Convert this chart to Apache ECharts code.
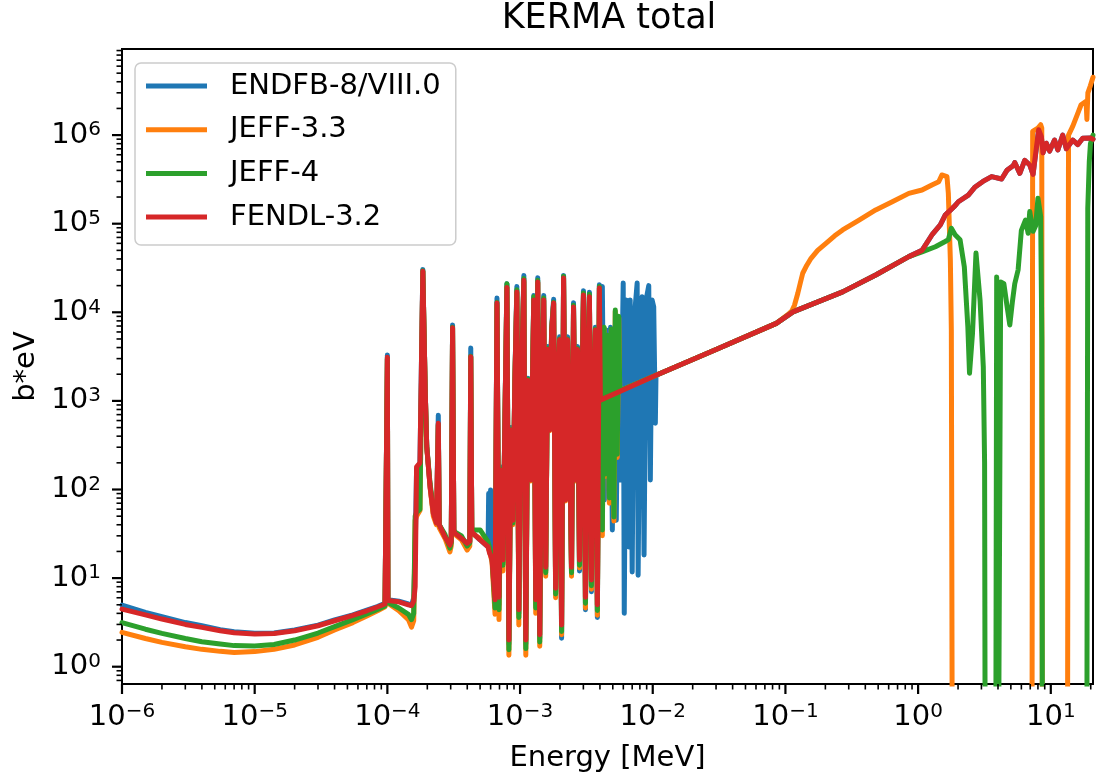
<!DOCTYPE html>
<html>
<head>
<meta charset="utf-8">
<title>KERMA total</title>
<script src="https://cdn.jsdelivr.net/npm/echarts@6.0.0/dist/echarts.min.js"></script>
<style>
  html, body { margin: 0; padding: 0; background: #fff; }
  #chart { width: 1096px; height: 780px; }
</style>
</head>
<body>
<div id="chart"></div>
<script>
// energy in MeV, kerma in b*eV
const names = ['ENDFB-8/VIII.0', 'JEFF-3.3', 'JEFF-4', 'FENDL-3.2']
const colors = ['#1f77b4', '#ff7f0e', '#2ca02c', '#d62728']
const FONT = 'DejaVu Sans'
const OFF = 0.001 // below the plot: curve drops out of the log axis

// thermal / 1/v part
const lowEnergy = [1e-6, 1.5e-6, 2e-6, 3e-6, 4e-6, 5.5e-6, 7e-6, 1e-5, 1.4e-5, 2e-5,
  3e-5, 4e-5, 5.5e-5, 7e-5, 8.5e-5, 9.6e-5]
const lowEndfb = [4.97, 4.1, 3.66, 3.15, 2.9, 2.62, 2.48, 2.38, 2.4, 2.6,
  2.95, 3.37, 3.85, 4.36, 4.8, 5.2]
const lowJeff33 = [2.44, 2.08, 1.88, 1.68, 1.57, 1.49, 1.45, 1.48, 1.57, 1.76,
  2.15, 2.6, 3.15, 3.73, 4.3, 4.75]
const lowJeff4 = [3.14, 2.65, 2.38, 2.08, 1.91, 1.8, 1.73, 1.71, 1.78, 2.0,
  2.4, 2.83, 3.4, 3.93, 4.45, 4.84]
const lowFendl = [4.47, 3.85, 3.45, 3.0, 2.78, 2.55, 2.42, 2.34, 2.37, 2.55,
  2.9, 3.3, 3.8, 4.28, 4.75, 5.1]

// first isolated resonances
const resEnergy = [9.9e-5, 1.0e-4, 1.01e-4, 1.22e-4, 1.44e-4, 1.52e-4, 1.58e-4, 1.62e-4, 1.66e-4, 1.76e-4,
  1.85e-4, 1.93e-4, 1.98e-4, 2.10e-4, 2.22e-4, 2.34e-4, 2.38e-4, 2.42e-4, 2.46e-4, 2.72e-4,
  2.96e-4, 3.03e-4, 3.10e-4, 3.17e-4, 3.24e-4, 3.62e-4, 3.99e-4, 4.18e-4, 4.25e-4, 4.33e-4,
  4.40e-4, 5.0e-4, 5.74e-4, 5.8e-4, 5.9e-4, 6.0e-4]
const resEndfb = [5.4, 3300, 5.7, 5.5, 5.1, 4.9, 6.0, 20, 170, 200,
  30500, 1260, 305, 107, 54, 42, 43, 690, 40, 29,
  23, 26, 7200, 34, 32, 28, 24.7, 26, 3950, 33,
  32, 27, 22.6, 90, 45, 99]
const resJeff33 = [4.9, 2950, 5.2, 4.3, 3.4, 2.8, 3.3, 45, 50, 58,
  29000, 1230, 300, 105, 50, 40, 41, 530, 37, 28,
  19.8, 23, 6600, 33, 31, 27, 20.7, 23, 3100, 32,
  31, 28, 23, 22, 20, 18]
const resJeff4 = [5.0, 3000, 5.3, 4.6, 3.9, 3.4, 4.0, 50, 55, 60,
  29500, 1240, 310, 115, 62, 70, 50, 540, 40, 31,
  21.8, 25, 6800, 35, 33, 30, 23, 25, 3200, 35,
  34, 35, 25.7, 24, 22, 20]
const resFendl = [5.3, 3100, 5.6, 5.4, 5.0, 4.9, 5.5, 8, 180, 200,
  29000, 1240, 305, 107, 54, 42, 43, 560, 40, 29,
  23.6, 26, 6700, 34, 32, 28, 24.7, 26, 3150, 33,
  32, 27, 22.6, 21, 19, 18]

// resolved resonance forest
const forestEnergy = [6.15e-4, 6.48e-4, 6.70e-4, 6.94e-4, 7.18e-4, 7.43e-4, 7.69e-4, 7.96e-4, 8.24e-4, 8.53e-4,
  8.83e-4, 9.14e-4, 9.46e-4, 9.79e-4, 1.014e-3, 1.068e-3, 1.105e-3, 1.144e-3, 1.205e-3, 1.269e-3,
  1.313e-3, 1.359e-3, 1.407e-3, 1.457e-3, 1.508e-3, 1.561e-3, 1.615e-3, 1.672e-3, 1.731e-3, 1.791e-3,
  1.854e-3, 1.919e-3, 1.987e-3, 2.056e-3, 2.128e-3, 2.203e-3, 2.280e-3, 2.360e-3, 2.443e-3, 2.529e-3,
  2.618e-3, 2.710e-3, 2.805e-3, 2.903e-3, 3.005e-3, 3.111e-3, 3.220e-3, 3.333e-3, 3.450e-3, 3.571e-3,
  3.697e-3, 3.826e-3, 3.961e-3]
const forestEndfb = [70, 5.0, 14500, 5.0, 180, 15, 650, 21000, 1.8, 500,
  44, 1800, 19500, 4.0, 1100, 26000, 1.8, 1800, 135, 15500,
  5.0, 24500, 2.1, 1100, 15500, 12.0, 4100, 500, 6800, 14000,
  7.0, 1800, 5300, 2.1, 26000, 80, 5300, 500, 11.0, 12800,
  135, 4100, 12, 650, 17500, 4.4, 1800, 16800, 7.0, 1100,
  6800, 3.6, 20500]
const forestJeff33 = [15, 3.9, 12000, 3.4, 160, 12, 600, 19000, 1.35, 460,
  40, 1650, 16500, 2.95, 1000, 22000, 1.35, 1650, 125, 13500,
  4.0, 21500, 1.7, 1000, 13500, 10.5, 3700, 460, 6200, 12500,
  6.0, 1650, 4800, 2.3, 24000, 74, 4800, 460, 10.5, 11300,
  125, 3700, 13, 600, 15500, 4.6, 1650, 14800, 7.5, 1000,
  6200, 3.8, 18500]
const forestJeff4 = [17, 4.6, 13000, 4.4, 170, 14, 620, 21000, 1.55, 480,
  42, 1750, 18000, 3.6, 1050, 24000, 1.6, 1750, 130, 15000,
  4.6, 23000, 1.9, 1050, 14500, 11.5, 3900, 480, 6500, 13000,
  6.6, 1750, 5000, 2.5, 25500, 78, 5000, 480, 11.5, 12000,
  130, 3900, 14, 620, 16500, 5.2, 1750, 16000, 8.2, 1050,
  6500, 4.3, 19500]
const forestFendl = [16, 5.7, 12700, 6.1, 165, 16, 610, 19000, 2.0, 470,
  45, 1700, 17000, 4.4, 1020, 23000, 2.0, 1700, 128, 13800,
  5.7, 22000, 2.3, 1020, 13800, 13.3, 3800, 470, 6300, 12700,
  7.7, 1700, 4900, 2.95, 24400, 76, 4900, 470, 13.3, 11500,
  128, 3800, 16, 610, 15700, 6.1, 1700, 15000, 9.5, 1020,
  6300, 5.0, 18800]

// JEFF evaluations resolve a little further
const jeffExtEnergy = [4.03e-3, 4.10e-3, 4.17e-3, 4.30e-3, 4.39e-3, 4.55e-3, 4.71e-3, 4.87e-3, 5.10e-3, 5.22e-3,
  5.40e-3, 5.54e-3, 5.64e-3]
const jeff33Ext = [290, 4800, 30, 6500, 140, 5300, 70, 6300, 44, 10200, 230, 8700, 1300]
const jeff4Ext = [300, 5000, 35, 6800, 150, 5500, 80, 6500, 49, 10600, 250, 9000, 1300]

// ENDF/B-VIII.0 resolves up to ~10 keV
const endfbExtEnergy = [4.10e-3, 4.17e-3, 4.32e-3, 4.47e-3, 4.63e-3, 4.81e-3, 4.96e-3, 5.13e-3, 5.31e-3, 5.50e-3,
  5.69e-3, 5.99e-3, 6.10e-3, 6.31e-3, 6.61e-3, 6.76e-3, 7.00e-3, 7.24e-3, 7.63e-3, 7.76e-3,
  8.04e-3, 8.32e-3, 8.60e-3, 8.91e-3, 9.33e-3, 9.59e-3, 9.88e-3, 1.017e-2, 1.046e-2, 1.058e-2]
const endfbExt = [280, 19500, 76, 6300, 280, 6800, 35, 3800, 45, 6300,
  128, 21400, 4.0, 13800, 22.4, 13800, 11.7, 8200, 21400, 10.8,
  6300, 15000, 18.2, 13800, 20000, 128, 13800, 11500, 560, 1950]

// smooth part shared by all libraries
const lineEnergy = [4.03e-3, 1.058e-2, 3e-2, 8.53e-2, 0.114, 0.27, 0.479, 0.851, 1.07]
const lineKerma = [1020, 1950, 3800, 7500, 1.01e4, 1.7e4, 2.64e4, 4.25e4, 5.0e4]
const jeff4LineKerma = [1950, 3800, 7500, 1.01e4, 1.7e4, 2.64e4, 4.25e4, 4.8e4]

// fast region
const jeff33HighEnergy = [0.105, 0.112, 0.117, 0.124, 0.13, 0.135, 0.145, 0.156, 0.175, 0.202,
  0.235, 0.270, 0.359, 0.479, 0.639, 0.851, 1.07, 1.27, 1.43, 1.51,
  1.65, 1.69, 1.75, 1.78, 1.82, 7.20, 7.30, 7.47, 8.0, 8.39,
  8.55, 8.65, 13.3, 13.6, 14.65, 15.97, 16.92, 18.45, 18.71, 19.03,
  19.87, 20.8]
const jeff33High = [9.5e3, 1.04e4, 1.2e4, 1.64e4, 2.2e4, 2.76e4, 3.4e4, 4.07e4, 5.0e4, 6.0e4,
  7.3e4, 8.5e4, 1.1e5, 1.43e5, 1.77e5, 2.2e5, 2.4e5, 2.74e5, 2.98e5, 3.55e5,
  3.4e5, 2.2e5, 3.9e4, 6300, OFF, OFF, 1.1e6, 1.13e6, 1.2e6, 1.31e6,
  1.2e6, OFF, OFF, 1.0e6, 1.26e6, 1.76e6, 2.2e6, 2.4e6, 1.5e6, 3.0e6,
  3.6e6, 4.5e6]

const jeff4HighEnergy = [1.35, 1.60, 1.69, 1.78, 1.90, 2.07, 2.23, 2.37, 2.44, 2.57,
  2.73, 2.93, 3.10, 3.17, 3.22, 3.83, 3.91, 3.99, 4.10, 4.19,
  4.43, 4.67, 4.91, 5.13, 5.35, 5.67, 6.0, 6.45, 6.75, 6.94,
  7.35, 7.69, 8.0, 8.39, 8.56, 8.68, 18.6, 19.0, 19.5, 19.9,
  20.8]
const jeff4High = [5.5e4, 6.3e4, 6.6e4, 8.9e4, 7.5e4, 6.6e4, 3.26e4, 6900, 2050, 5800,
  4.67e4, 1.37e4, 2400, 200, OFF, OFF, 2.5e4, OFF, OFF, 2.2e4,
  2.1e4, 1.2e4, 7200, 1.3e4, 2.1e4, 3.0e4, 8.4e4, 1.1e5, 7.8e4, 1.37e5,
  8.2e4, 9.5e4, 1.94e5, 1.2e5, 5000, OFF, OFF, 1.5e5, 5e5, 8e5,
  1e6]

const fendlHighEnergy = [1.27, 1.47, 1.60, 1.90, 2.01, 2.39, 2.69, 3.08, 3.58, 4.26,
  4.67, 5.20, 5.35, 5.84, 6.36, 6.94, 7.35, 8.10, 8.49, 8.73,
  9.25, 9.80, 10.67, 11.3, 12.3, 13.1, 14.65, 15.97, 17.4, 19.9,
  20.8]
const fendlHigh = [7.46e4, 9.7e4, 1.25e5, 1.6e5, 1.77e5, 2.1e5, 2.6e5, 3.0e5, 3.4e5, 3.2e5,
  4.0e5, 4.5e5, 4.9e5, 3.7e5, 5.2e5, 4.6e5, 3.6e5, 1.15e6, 9.6e5, 6.3e5,
  8.1e5, 6.6e5, 8.8e5, 6.8e5, 1.0e6, 7.0e5, 8.8e5, 7.8e5, 9.2e5, 9.3e5,
  9.0e5]

const xMajorTicks = [1e-6, 1e-5, 1e-4, 1e-3, 1e-2, 1e-1, 1, 10]
const yMajorTicks = [1, 10, 100, 1e3, 1e4, 1e5, 1e6]
const X_MIN = 1e-6, X_MAX = 20.8
const Y_MIN = 0.638, Y_MAX = 9.37e6

const pairs = (xs, ys) => xs.map((x, i) => [x, ys[i]])

const endfbData = [].concat(
  pairs(lowEnergy, lowEndfb), pairs(resEnergy, resEndfb), pairs(forestEnergy, forestEndfb),
  pairs(endfbExtEnergy, endfbExt), pairs(lineEnergy.slice(1), lineKerma.slice(1)),
  pairs(fendlHighEnergy, fendlHigh))
const jeff33Data = [].concat(
  pairs(lowEnergy, lowJeff33), pairs(resEnergy, resJeff33), pairs(forestEnergy, forestJeff33),
  pairs(jeffExtEnergy, jeff33Ext), pairs(lineEnergy.slice(1, 4), lineKerma.slice(1, 4)),
  pairs(jeff33HighEnergy, jeff33High))
const jeff4Data = [].concat(
  pairs(lowEnergy, lowJeff4), pairs(resEnergy, resJeff4), pairs(forestEnergy, forestJeff4),
  pairs(jeffExtEnergy, jeff4Ext), pairs(lineEnergy.slice(1), jeff4LineKerma),
  pairs(jeff4HighEnergy, jeff4High))
const fendlData = [].concat(
  pairs(lowEnergy, lowFendl), pairs(resEnergy, resFendl), pairs(forestEnergy, forestFendl),
  pairs(lineEnergy, lineKerma), pairs(fendlHighEnergy, fendlHigh))

// minor ticks like a log locator: 2..9 times each decade
function minorTicks(lo, hi) {
  const out = []
  for (let d = Math.floor(Math.log10(lo)); d <= Math.ceil(Math.log10(hi)); d++) {
    for (let m = 2; m <= 9; m++) {
      const v = m * Math.pow(10, d)
      if (v >= lo && v <= hi) out.push(v)
    }
  }
  return out
}

function powerLabel(value) {
  const e = Math.log10(value)
  const r = Math.round(e)
  if (Math.abs(e - r) > 1e-6) return ''
  return '{b|10}{s|' + (r < 0 ? '\u2212' + (-r) : r) + '}'
}

const labelRich = {
  b: { fontFamily: FONT, fontSize: 29, lineHeight: 30, color: '#000' },
  s: { fontFamily: FONT, fontSize: 20, lineHeight: 18, verticalAlign: 'top', color: '#000' }
}

function tickSeries(axis, majors, minors) {
  const data = majors.map(v => axis === 'x' ? [v, 2] : [2, v])
    .concat(minors.map(v => axis === 'x' ? [v, 1] : [1, v]))
  return {
    type: 'custom',
    silent: true,
    clip: false,
    z: 10,
    data: data,
    renderItem(params, api) {
      const cs = params.coordSys
      if (axis === 'x') {
        const major = api.value(1) === 2
        const px = api.coord([api.value(0), 1])[0]
        const y0 = cs.y + cs.height
        return {
          type: 'line',
          shape: { x1: px, y1: y0, x2: px, y2: y0 + (major ? 10 : 5.5) },
          style: { stroke: '#000', lineWidth: major ? 2.2 : 1.6 }
        }
      }
      const major = api.value(0) === 2
      const py = api.coord([1, api.value(1)])[1]
      return {
        type: 'line',
        shape: { x1: cs.x, y1: py, x2: cs.x - (major ? 10 : 5.5), y2: py },
        style: { stroke: '#000', lineWidth: major ? 2.2 : 1.6 }
      }
    }
  }
}

function lineSeries(i, data) {
  return {
    name: names[i],
    type: 'line',
    data: data,
    showSymbol: false,
    symbol: 'none',
    color: colors[i],
    itemStyle: { color: colors[i] },
    lineStyle: { color: colors[i], width: 5, join: 'round', cap: 'round' },
    emphasis: { disabled: true },
    z: 2 + i
  }
}

const chart = echarts.init(document.getElementById('chart'), null, { renderer: 'canvas' })
chart.setOption({
  animation: false,
  backgroundColor: '#fff',
  title: {
    text: 'KERMA total',
    left: 609,
    top: 0,
    textAlign: 'center',
    padding: 0,
    textStyle: { fontFamily: FONT, fontSize: 35, fontWeight: 'normal', color: '#000', lineHeight: 38 }
  },
  grid: {
    left: 122, top: 49, right: -3, bottom: 96,
    show: true, borderColor: '#000', borderWidth: 2, backgroundColor: 'transparent'
  },
  legend: {
    data: names,
    orient: 'vertical',
    left: 135,
    top: 63,
    padding: [8, 15, 13, 11],
    itemGap: 13.7,
    itemWidth: 61,
    itemHeight: 5,
    icon: 'rect',
    selectedMode: false,
    backgroundColor: 'rgba(255,255,255,0.8)',
    borderColor: '#cccccc',
    borderWidth: 1.5,
    borderRadius: 6,
    textStyle: { fontFamily: FONT, fontSize: 29, color: '#000', lineHeight: 30, padding: [0, 0, 0, 18] }
  },
  xAxis: {
    type: 'log',
    min: X_MIN,
    max: X_MAX,
    name: 'Energy [MeV]',
    nameLocation: 'middle',
    nameGap: 60,
    nameTextStyle: { fontFamily: FONT, fontSize: 29, color: '#000' },
    axisLine: { show: true, lineStyle: { color: '#000', width: 2 } },
    axisTick: { show: false },
    splitLine: { show: false },
    minorTick: { show: false },
    axisLabel: { margin: 18, formatter: powerLabel, rich: labelRich }
  },
  yAxis: {
    type: 'log',
    min: Y_MIN,
    max: Y_MAX,
    name: 'b*eV',
    nameLocation: 'middle',
    nameRotate: 90,
    nameGap: 80,
    nameTextStyle: { fontFamily: FONT, fontSize: 29, color: '#000' },
    axisLine: { show: true, lineStyle: { color: '#000', width: 2 } },
    axisTick: { show: false },
    splitLine: { show: false },
    minorTick: { show: false },
    axisLabel: { margin: 21, formatter: powerLabel, rich: labelRich }
  },
  series: [
    lineSeries(0, endfbData),
    lineSeries(1, jeff33Data),
    lineSeries(2, jeff4Data),
    lineSeries(3, fendlData),
    tickSeries('x', xMajorTicks, minorTicks(X_MIN, X_MAX)),
    tickSeries('y', yMajorTicks, minorTicks(Y_MIN, Y_MAX))
  ]
})
</script>
</body>
</html>
